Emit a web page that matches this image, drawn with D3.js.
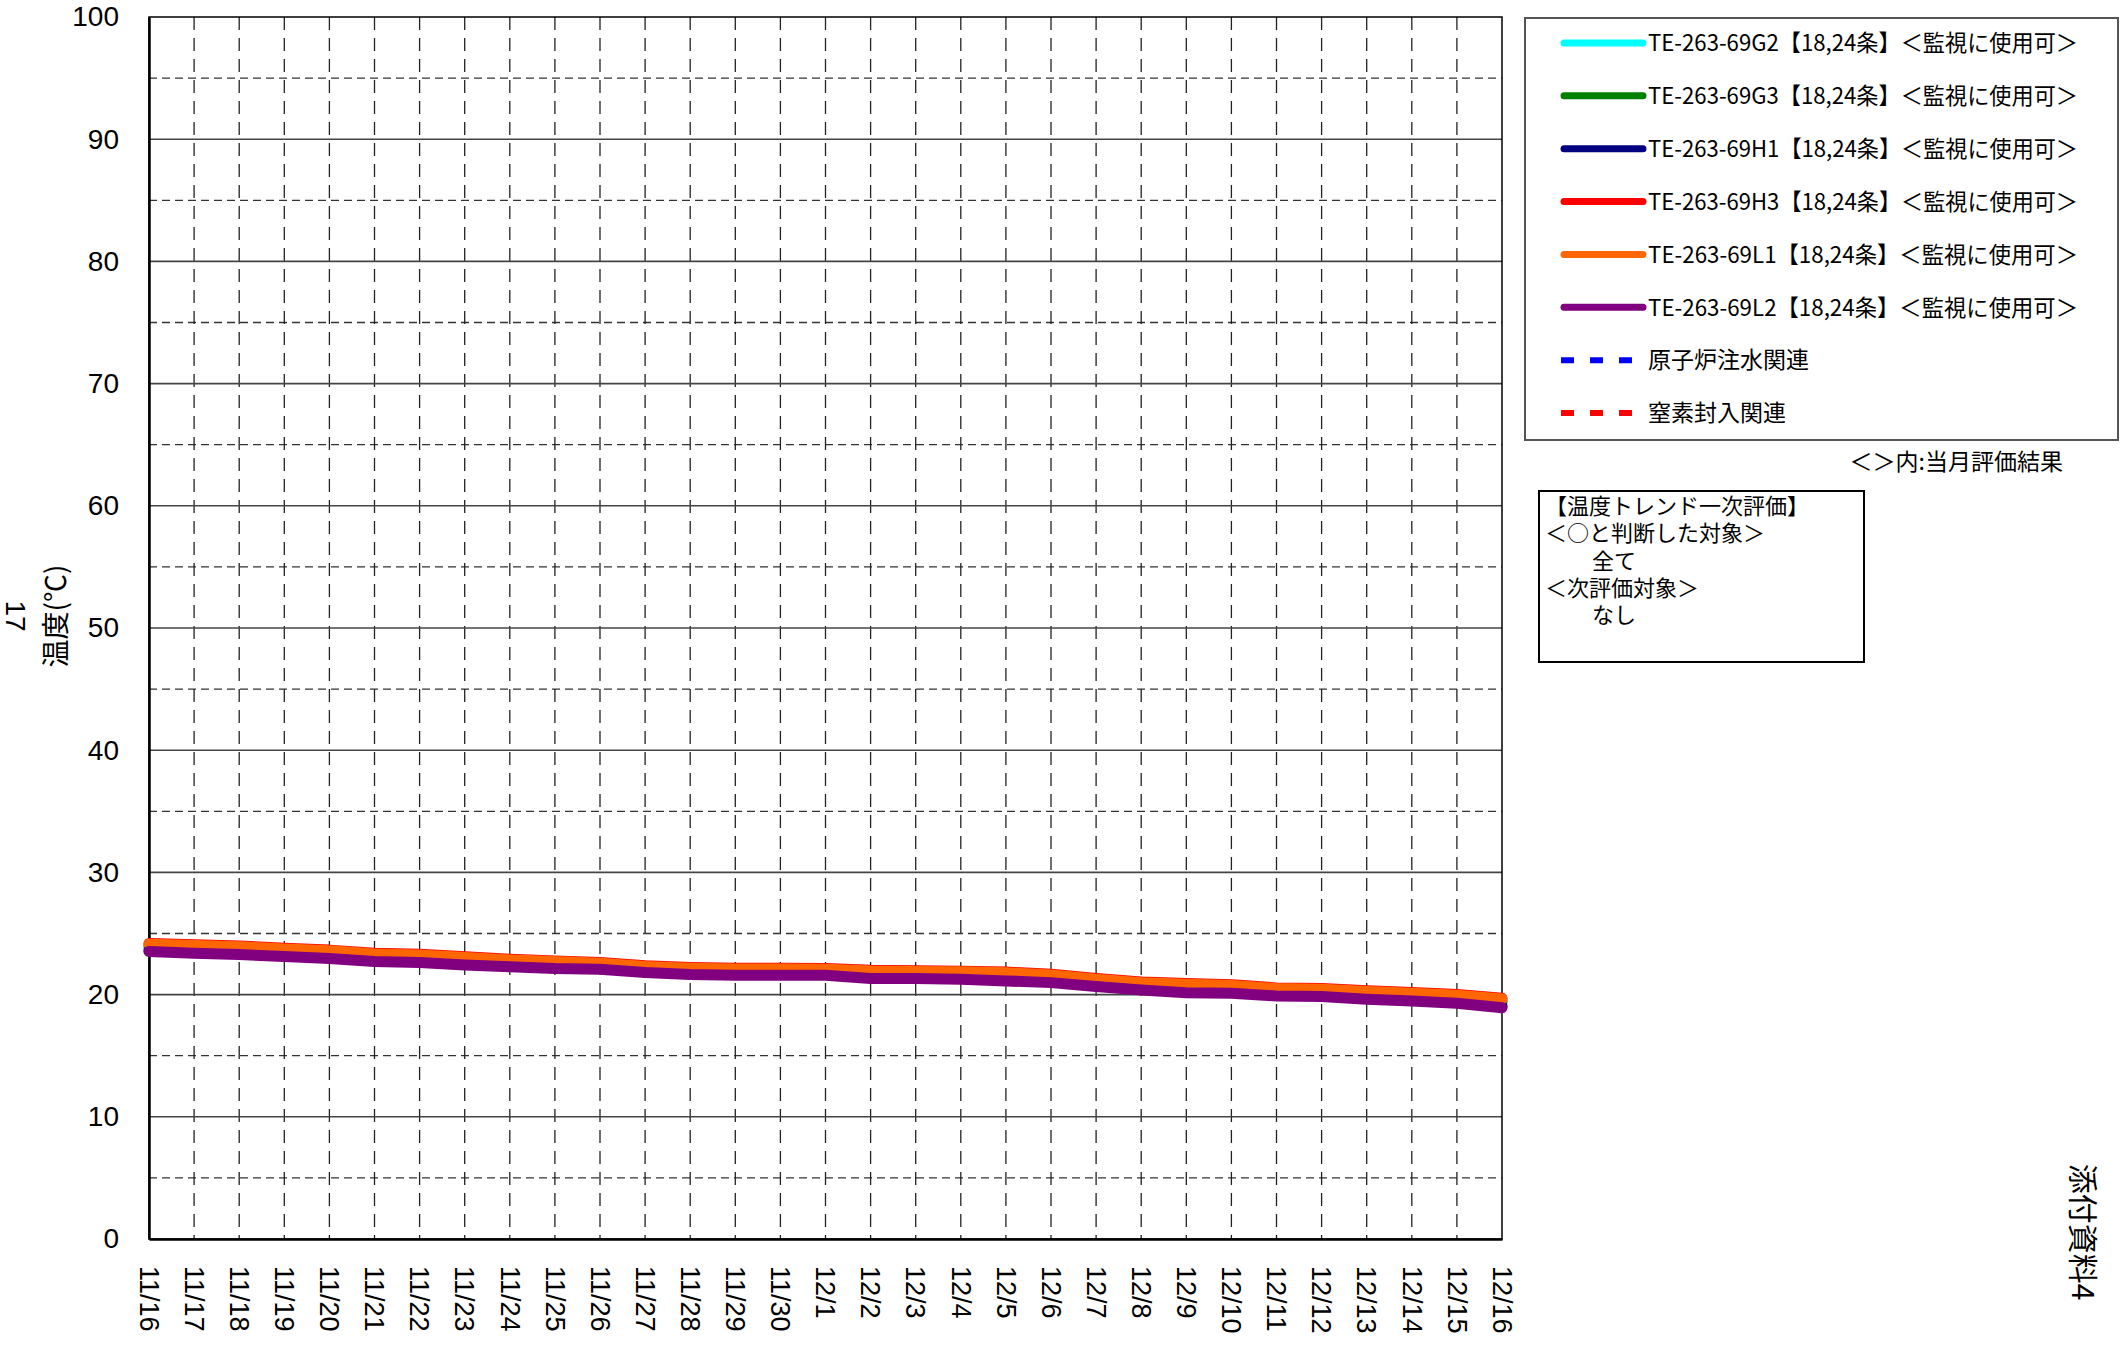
<!DOCTYPE html>
<html>
<head>
<meta charset="utf-8">
<script src="https://cdn.jsdelivr.net/npm/d3@7"></script>
<style>
body { margin: 0; background: #fff; }
svg { display: block; }
</style>
</head>
<body>
<script>
// day labels 11/16 .. 12/16
var days = ["11/16","11/17","11/18","11/19","11/20","11/21","11/22","11/23","11/24","11/25",
    "11/26","11/27","11/28","11/29","11/30","12/1","12/2","12/3","12/4","12/5","12/6","12/7",
    "12/8","12/9","12/10","12/11","12/12","12/13","12/14","12/15","12/16"];

var yTicks = [0, 10, 20, 30, 40, 50, 60, 70, 80, 90, 100];
var yMinor = [5, 15, 25, 35, 45, 55, 65, 75, 85, 95];

var names = ["TE-263-69G2", "TE-263-69G3", "TE-263-69H1", "TE-263-69H3", "TE-263-69L1", "TE-263-69L2"];
var colors = ["#00ffff", "#008000", "#000080", "#ff0000", "#ff6600", "#800080"];

var g2 = [23.80,23.70,23.58,23.42,23.27,23.02,22.94,22.73,22.55,22.41,22.32,22.05,21.90,21.84,21.84,21.83,21.60,21.61,21.56,21.45,21.30,20.96,20.68,20.50,20.42,20.19,20.14,19.93,19.79,19.62,19.30];
var g3 = [23.95,23.86,23.74,23.58,23.42,23.18,23.10,22.88,22.70,22.56,22.44,22.17,22.03,21.97,21.97,21.96,21.77,21.75,21.71,21.62,21.45,21.11,20.83,20.68,20.58,20.34,20.29,20.09,19.95,19.79,19.47];
var h1 = [23.62,23.50,23.39,23.22,23.06,22.81,22.73,22.54,22.38,22.24,22.18,21.91,21.75,21.69,21.69,21.69,21.43,21.43,21.37,21.24,21.09,20.77,20.49,20.28,20.22,20.00,19.95,19.74,19.60,19.41,19.05];
var h3 = [24.18,24.08,23.97,23.80,23.64,23.39,23.31,23.09,22.90,22.76,22.63,22.36,22.22,22.16,22.16,22.14,22.00,21.95,21.92,21.84,21.67,21.32,21.04,20.91,20.80,20.55,20.50,20.31,20.17,20.01,19.70];
var l1 = [24.13,24.02,23.91,23.74,23.58,23.33,23.25,23.03,22.84,22.70,22.57,22.30,22.16,22.10,22.10,22.08,21.94,21.89,21.86,21.78,21.61,21.26,20.98,20.85,20.74,20.49,20.44,20.25,20.11,19.95,19.64];
var l2 = [23.52,23.39,23.28,23.11,22.95,22.70,22.62,22.43,22.27,22.13,22.08,21.80,21.64,21.58,21.58,21.58,21.32,21.32,21.26,21.12,20.98,20.66,20.38,20.16,20.11,19.89,19.84,19.62,19.48,19.29,18.93];
var series = [g2, g3, h1, h3, l1, l2];

var extra = [
    {label: "原子炉注水関連", color: "#0000ff"},
    {label: "窒素封入関連", color: "#ff0000"}
];

var jp = "'Noto Sans CJK JP', sans-serif";
var W = 2123, H = 1346;
var pLeft = 149, pRight = 1502, pTop = 17, pBottom = 1239;

var svg = d3.select("body").append("svg")
    .attr("width", W)
    .attr("height", H);

var x = d3.scaleLinear().domain([0, days.length - 1]).range([pLeft, pRight]);
var y = d3.scaleLinear().domain([0, 100]).range([pBottom, pTop]);

// grid
svg.append("g").selectAll("line")
    .data(yMinor)
    .enter().append("line")
    .attr("x1", pLeft).attr("x2", pRight)
    .attr("y1", function(d) { return y(d); })
    .attr("y2", function(d) { return y(d); })
    .style("stroke", "#333")
    .style("stroke-width", 1.3)
    .style("stroke-dasharray", "8,5");

svg.append("g").selectAll("line")
    .data(d3.range(1, days.length - 1))
    .enter().append("line")
    .attr("x1", function(d) { return x(d); })
    .attr("x2", function(d) { return x(d); })
    .attr("y1", pTop).attr("y2", pBottom)
    .style("stroke", "#222")
    .style("stroke-width", 1.3)
    .style("stroke-dasharray", "13,8");

svg.append("g").selectAll("line")
    .data(yTicks.slice(1, -1))
    .enter().append("line")
    .attr("x1", pLeft).attr("x2", pRight)
    .attr("y1", function(d) { return y(d); })
    .attr("y2", function(d) { return y(d); })
    .style("stroke", "#444")
    .style("stroke-width", 1.6);

// frame
svg.append("rect")
    .attr("x", pLeft).attr("y", pTop)
    .attr("width", pRight - pLeft).attr("height", pBottom - pTop)
    .style("fill", "none")
    .style("stroke", "#000")
    .style("stroke-width", 1.5);

// axes
var yAxis = svg.append("g")
    .attr("transform", "translate(" + pLeft + ",0)")
    .call(d3.axisLeft(y).tickValues(yTicks).tickSize(0).tickPadding(30));
yAxis.select(".domain").style("stroke", "#000").style("stroke-width", 2.5);
yAxis.selectAll("text")
    .style("font-family", "'Liberation Sans', Arial, sans-serif")
    .style("font-size", "28px")
    .style("fill", "#000");

var xAxis = svg.append("g")
    .attr("transform", "translate(0," + pBottom + ")")
    .call(d3.axisBottom(x).tickValues(d3.range(days.length))
        .tickFormat(function(i) { return days[i]; }).tickSize(0));
xAxis.select(".domain").style("stroke", "#000").style("stroke-width", 2.5);
xAxis.selectAll("text")
    .attr("transform", "rotate(90)")
    .attr("x", 27).attr("y", 0)
    .attr("dy", "0.36em")
    .style("text-anchor", "start")
    .style("font-family", "'Liberation Sans', Arial, sans-serif")
    .style("font-size", "27px")
    .style("fill", "#000");

// lines
var line = d3.line()
    .x(function(d, i) { return x(i); })
    .y(function(d) { return y(d); });

svg.append("g").selectAll("path")
    .data(series)
    .enter().append("path")
    .attr("d", line)
    .style("fill", "none")
    .style("stroke", function(d, i) { return colors[i]; })
    .style("stroke-width", 11)
    .style("stroke-linecap", "round")
    .style("stroke-linejoin", "round");

// y label + page number
svg.append("text")
    .attr("transform", "translate(66,616) rotate(-90)")
    .style("text-anchor", "middle")
    .style("font-family", jp)
    .style("font-size", "28px")
    .text("温度(℃)");

svg.append("text")
    .attr("transform", "translate(6,616) rotate(90)")
    .style("text-anchor", "middle")
    .style("font-family", "'Liberation Sans', Arial, sans-serif")
    .style("font-size", "28px")
    .text("17");

// legend
var legend = svg.append("g");
legend.append("rect")
    .attr("x", 1525).attr("y", 18)
    .attr("width", 593).attr("height", 422)
    .style("fill", "#fff")
    .style("stroke", "#555")
    .style("stroke-width", 2);

var ly = d3.scaleLinear().domain([0, 7]).range([43, 413]);

var items = legend.selectAll("g.item")
    .data(names)
    .enter().append("g")
    .attr("class", "item")
    .attr("transform", function(d, i) { return "translate(0," + ly(i) + ")"; });
items.append("line")
    .attr("x1", 1564).attr("x2", 1643)
    .style("stroke", function(d, i) { return colors[i]; })
    .style("stroke-width", 7)
    .style("stroke-linecap", "round");
items.append("text")
    .attr("x", 1648).attr("dy", "0.36em")
    .attr("textLength", 430)
    .attr("lengthAdjust", "spacingAndGlyphs")
    .style("font-family", jp)
    .style("font-size", "23px")
    .text(function(d) { return d + "【18,24条】＜監視に使用可＞"; });

var items2 = legend.selectAll("g.item2")
    .data(extra)
    .enter().append("g")
    .attr("class", "item2")
    .attr("transform", function(d, i) { return "translate(0," + ly(i + 6) + ")"; });
items2.append("line")
    .attr("x1", 1561).attr("x2", 1640)
    .style("stroke", function(d) { return d.color; })
    .style("stroke-width", 6)
    .style("stroke-dasharray", "13,16");
items2.append("text")
    .attr("x", 1648).attr("dy", "0.36em")
    .style("font-family", jp)
    .style("font-size", "23px")
    .text(function(d) { return d.label; });

svg.append("text")
    .attr("x", 2063).attr("y", 470)
    .style("text-anchor", "end")
    .style("font-family", jp)
    .style("font-size", "23px")
    .text("＜＞内:当月評価結果");

// evaluation box
var evalLines = [
    {t: "【温度トレンド一次評価】", ind: 0},
    {t: "＜○と判断した対象＞", ind: 0},
    {t: "全て", ind: 1},
    {t: "＜次評価対象＞", ind: 0},
    {t: "なし", ind: 1}
];
svg.append("rect")
    .attr("x", 1539).attr("y", 491)
    .attr("width", 325).attr("height", 171)
    .style("fill", "#fff")
    .style("stroke", "#000")
    .style("stroke-width", 2);
svg.append("g").selectAll("text")
    .data(evalLines)
    .enter().append("text")
    .attr("x", function(d) { return d.ind ? 1592 : 1545; })
    .attr("y", function(d, i) { return 506 + i * 27.3; })
    .attr("dy", "0.36em")
    .style("font-family", jp)
    .style("font-size", "22px")
    .text(function(d) { return d.t; });

svg.append("text")
    .attr("transform", "translate(2072,1232) rotate(90)")
    .style("text-anchor", "middle")
    .style("font-family", jp)
    .style("font-size", "30px")
    .text("添付資料4");
</script>
</body>
</html>
